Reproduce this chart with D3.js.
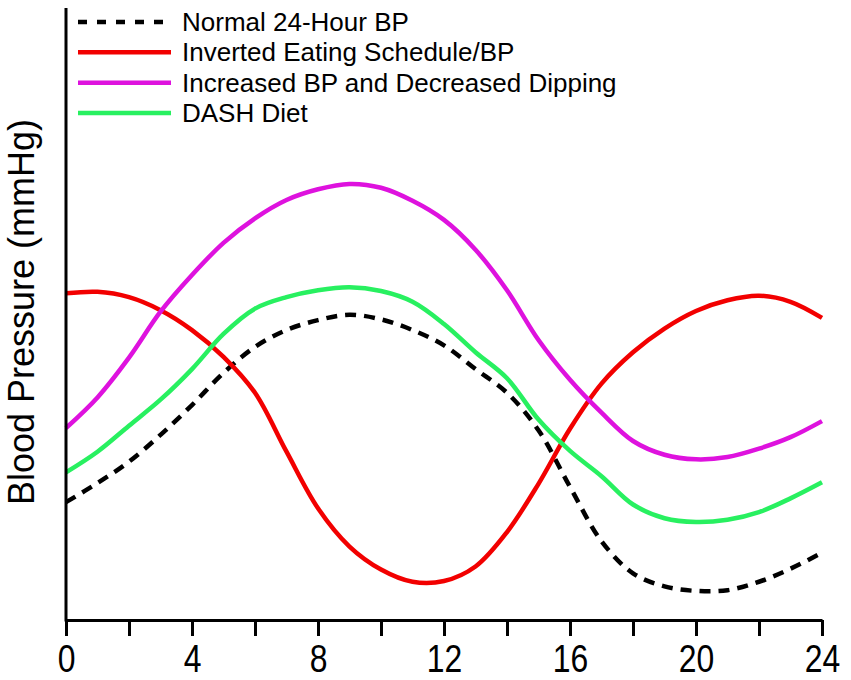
<!DOCTYPE html>
<html>
<head>
<meta charset="utf-8">
<script src="https://cdn.jsdelivr.net/npm/d3@7"></script>
<style>
  html, body { margin: 0; padding: 0; background: #fff; }
  svg { display: block; }
</style>
</head>
<body>
<svg id="chart" width="851" height="680"></svg>
<script>
// ---- Data (hours 0..24, blood pressure in arbitrary mmHg units) ----
const hours = d3.range(0, 25);
const normalBP   = [85.4, 87.9, 90.7, 94.2, 98.1, 102.3, 105.7, 107.9, 109.2, 109.9, 109.3, 107.9, 105.9, 102.8, 99.7, 94.8, 87.4, 80.3, 76.1, 74.4, 73.8, 73.9, 75.0, 76.7, 78.8];
const invertedBP = [112.7, 112.9, 112.2, 110.5, 107.9, 104.4, 99.7, 92.0, 84.6, 79.6, 76.6, 75.0, 75.1, 77.0, 81.5, 87.8, 95.0, 100.9, 105.0, 108.1, 110.4, 111.8, 112.4, 111.6, 109.5];
const increasedBP = [95.1, 99.1, 104.3, 110.3, 115.1, 119.3, 122.5, 124.9, 126.3, 127.0, 126.5, 124.8, 122.3, 118.4, 113.1, 106.6, 101.4, 97.1, 93.4, 91.6, 91.0, 91.3, 92.4, 93.9, 96.0];
const dashBP     = [89.3, 92.0, 95.4, 98.8, 102.8, 107.4, 110.7, 112.2, 113.1, 113.5, 113.0, 111.6, 108.7, 105.0, 101.6, 96.2, 92.1, 88.8, 85.1, 83.3, 82.8, 83.1, 84.1, 85.9, 88.0];
const seriesNames = ["Normal 24-Hour BP", "Inverted Eating Schedule/BP", "Increased BP and Decreased Dipping", "DASH Diet"];
const xTicks = d3.range(0, 25, 2);
const xLabelTicks = [0, 4, 8, 12, 16, 20, 24];
const yLabel = "Blood Pressure (mmHg)";

const series = [
  { name: seriesNames[0], values: normalBP,   color: "#000000", dash: "11,8" },
  { name: seriesNames[1], values: invertedBP, color: "#f20000", dash: null },
  { name: seriesNames[2], values: increasedBP, color: "#de12de", dash: null },
  { name: seriesNames[3], values: dashBP,     color: "#28f060", dash: null }
];

const svg = d3.select("#chart");
const x = d3.scaleLinear().domain([0, 24]).range([66, 822]);
const y = d3.scaleLinear().domain([70, 150]).range([620, 8]);

const line = d3.line()
  .x((d, i) => x(hours[i]))
  .y(d => y(d))
  .curve(d3.curveCatmullRom.alpha(0.5));

// curves
svg.append("g").selectAll("path")
  .data(series)
  .join("path")
  .attr("d", d => line(d.values))
  .attr("fill", "none")
  .attr("stroke", d => d.color)
  .attr("stroke-width", 4.5)
  .attr("stroke-dasharray", d => d.dash)
  .attr("stroke-linecap", "butt");

// x axis
const xAxis = d3.axisBottom(x)
  .tickValues(xTicks)
  .tickSize(16)
  .tickSizeOuter(0)
  .tickFormat(d => xLabelTicks.includes(d) ? d : "");
const gx = svg.append("g").attr("transform", `translate(0,${y(70)})`).call(xAxis);
gx.select(".domain").attr("stroke", "#000").attr("stroke-width", 3);
gx.selectAll(".tick line").attr("stroke", "#000").attr("stroke-width", 3);
gx.selectAll(".tick text")
  .attr("fill", "#000")
  .attr("font-family", "'Liberation Sans', Arial, sans-serif")
  .attr("font-size", 38)
  .attr("y", 52)
  .attr("dy", null)
  .attr("transform", "scale(0.84,1)");

// y axis (line only)
svg.append("line")
  .attr("x1", x(0)).attr("x2", x(0))
  .attr("y1", y(150)).attr("y2", y(70) + 1.5)
  .attr("stroke", "#000").attr("stroke-width", 3);

// y label
svg.append("text")
  .attr("transform", `translate(34,${312}) rotate(-90)`)
  .attr("text-anchor", "middle")
  .attr("font-family", "'Liberation Sans', Arial, sans-serif")
  .attr("font-size", 36)
  .attr("fill", "#000")
  .text(yLabel);

// legend
const legend = svg.append("g");
const rowY = d3.scaleLinear().domain([0, 3]).range([22, 113]);
series.forEach((s, i) => {
  const cy = rowY(i);
  legend.append("line")
    .attr("x1", 78).attr("x2", 171)
    .attr("y1", cy).attr("y2", cy)
    .attr("stroke", s.color)
    .attr("stroke-width", 4.5)
    .attr("stroke-dasharray", s.dash ? "9,10" : null);
  legend.append("text")
    .attr("x", 182).attr("y", cy + 9)
    .attr("font-family", "'Liberation Sans', Arial, sans-serif")
    .attr("font-size", 26)
    .attr("fill", "#000")
    .text(s.name);
});
</script>
</body>
</html>
